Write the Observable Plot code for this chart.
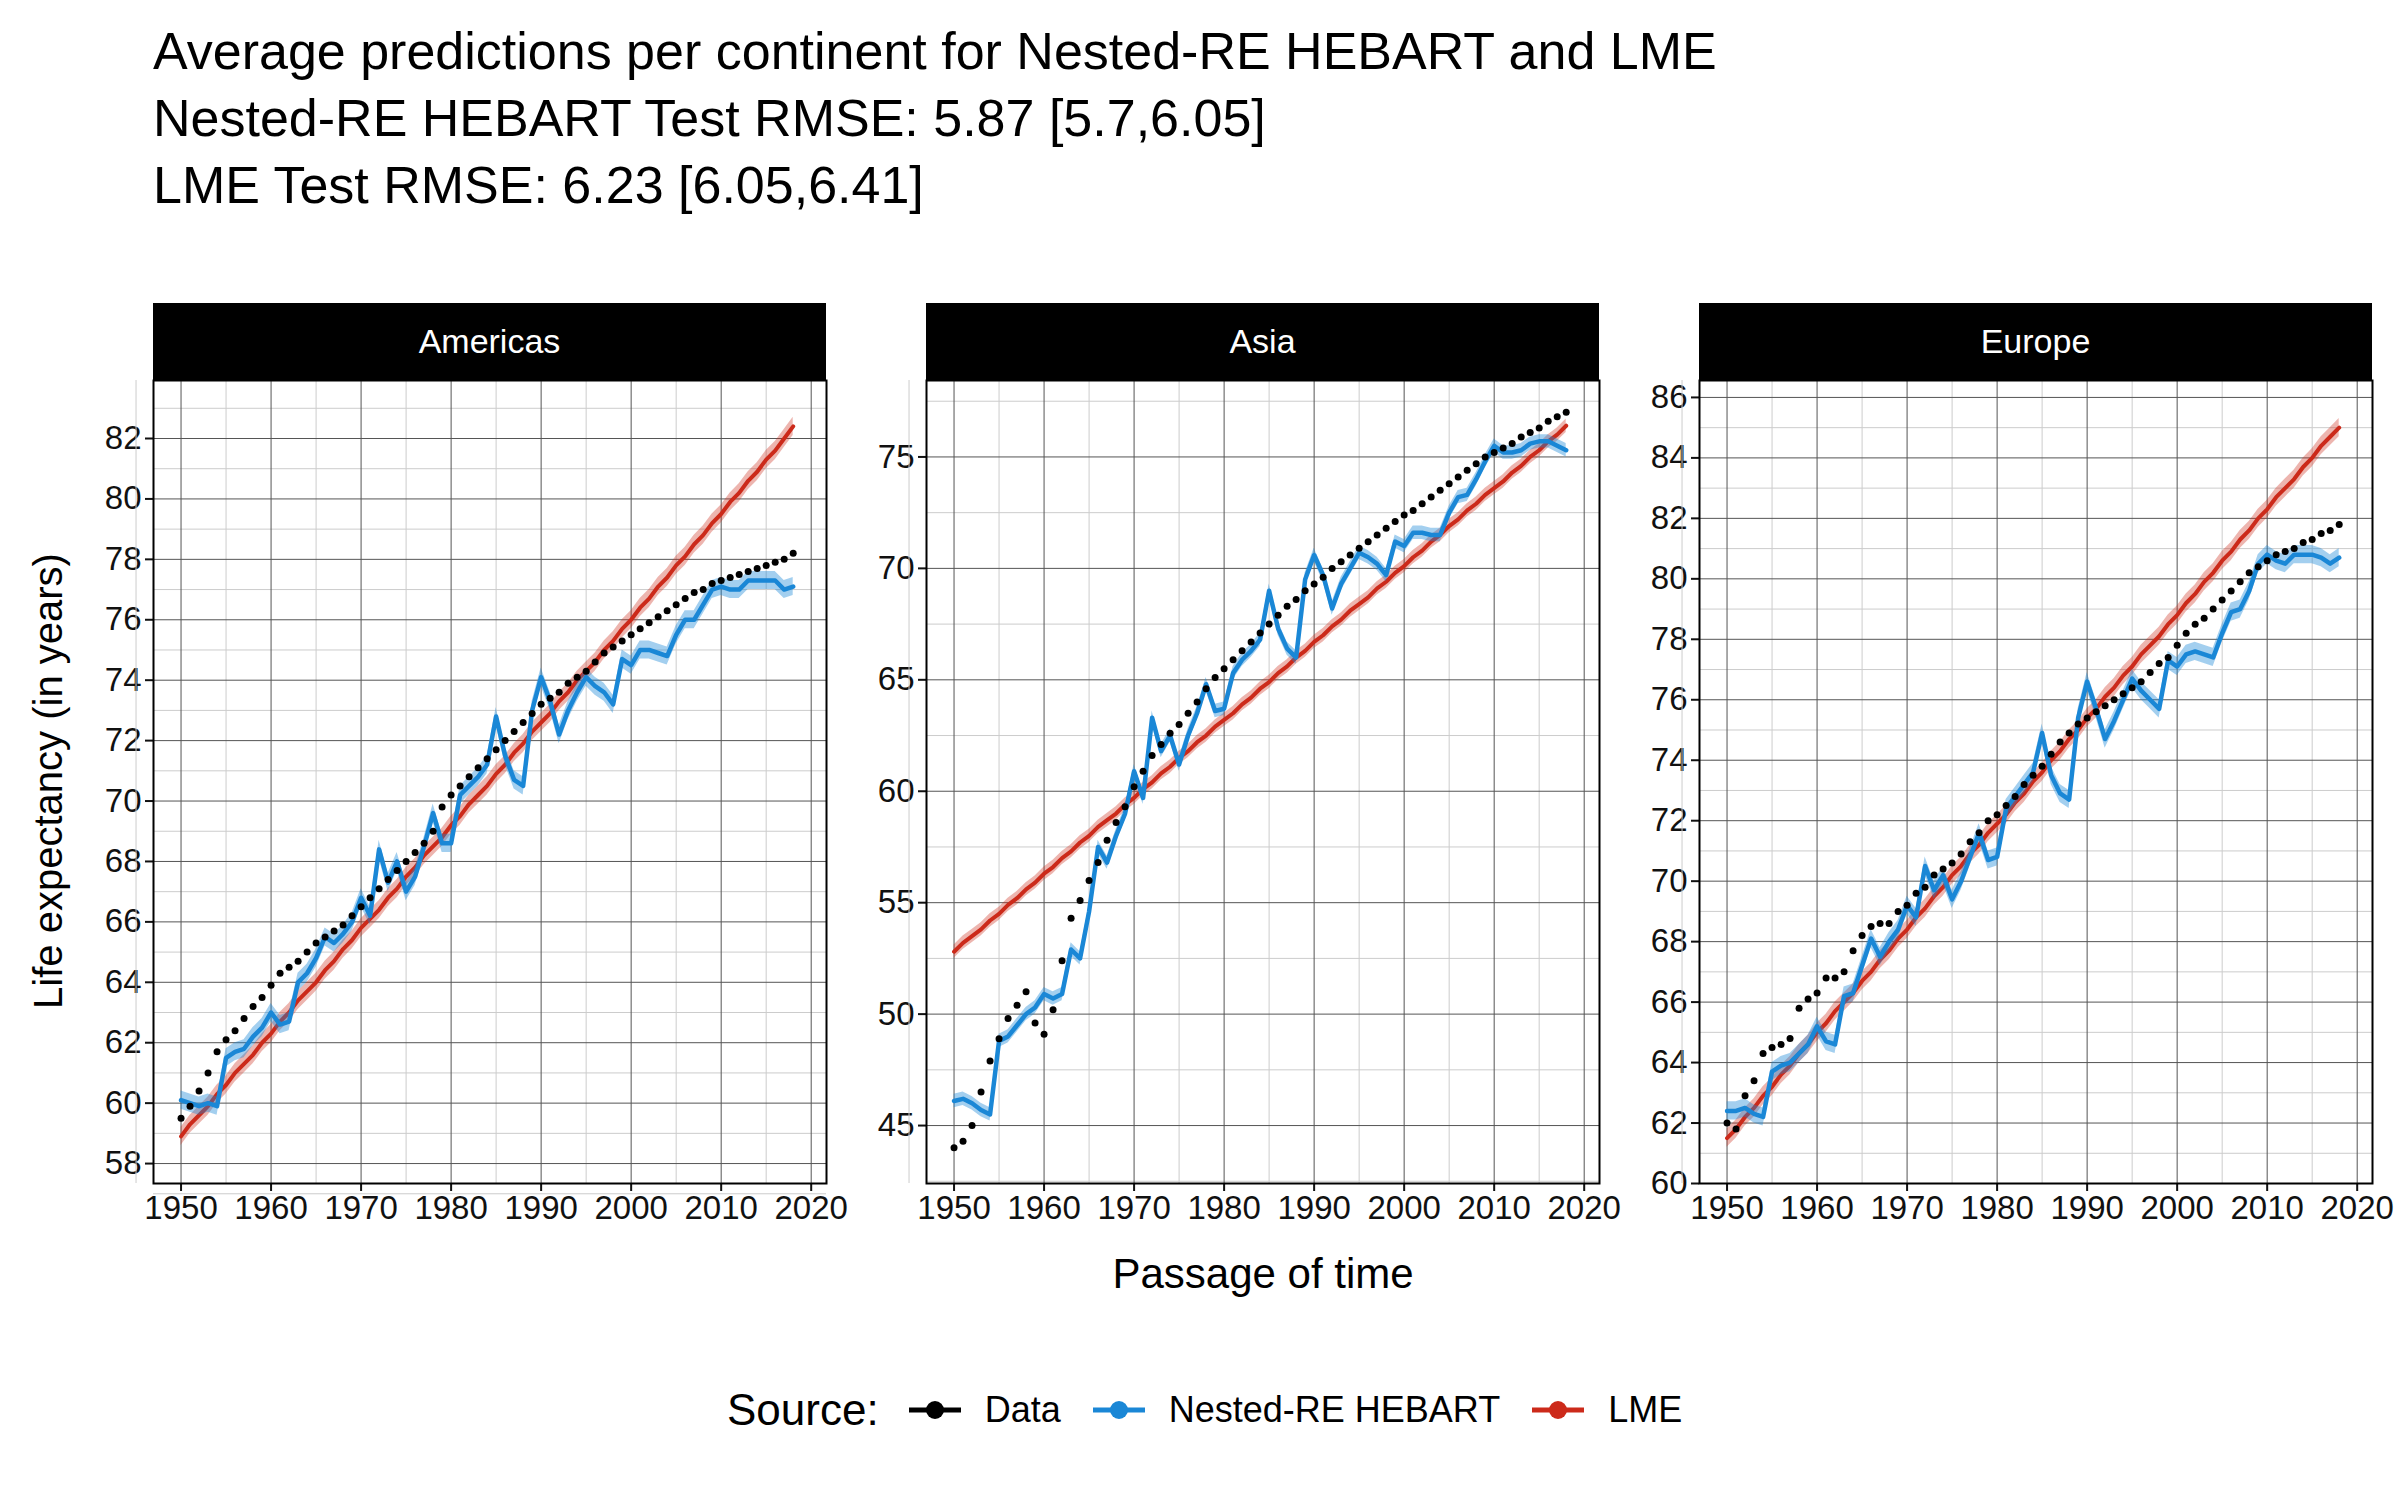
<!DOCTYPE html>
<html>
<head>
<meta charset="utf-8">
<script src="https://cdn.jsdelivr.net/npm/d3@7"></script>
<script src="https://cdn.jsdelivr.net/npm/@observablehq/plot@0.6"></script>
<style>
  body { margin: 0; background: #fff; font-family: "Liberation Sans", Arial, sans-serif; }
  #page { position: relative; width: 2400px; height: 1500px; }
  #title { position: absolute; left: 153px; top: 18px; font-size: 52px; line-height: 67px; color: #000; }
  .panel { position: absolute; top: 303px; height: 960px; }
  .strip { position: absolute; top: 0; height: 77px; background: #000; color: #fff; font-size: 34px;
           display: flex; align-items: center; justify-content: center; }
  .panel svg { position: absolute; top: 77px; left: 0; max-width: none !important; overflow: visible; }
  #ylab { position: absolute; left: 48px; top: 781px; transform: translate(-50%, -50%) rotate(-90deg);
          font-size: 40px; white-space: nowrap; }
  #xlab { position: absolute; left: 1263px; top: 1250px; transform: translateX(-50%); font-size: 42px; }
  #legend { position: absolute; left: 727px; top: 1385px; display: flex; align-items: center; font-size: 36px; }
  #legend .t { font-size: 44px; margin-right: 28px; }
  #legend .k { display: flex; align-items: center; margin-right: 30px; }
  #legend svg { margin-right: 22px; }
</style>
</head>
<body>
<div id="page">
  <div id="title">Average predictions per continent for Nested-RE HEBART and LME<br>Nested-RE HEBART Test RMSE: 5.87 [5.7,6.05]<br>LME Test RMSE: 6.23 [6.05,6.41]</div>
  <div id="ylab">Life expectancy (in years)</div>
  <div id="xlab">Passage of time</div>
  <div id="legend"></div>
</div>
<script>
const years = d3.range(1950, 2019);
const continents = ["Americas", "Asia", "Europe"];
const xTicks = [1950, 1960, 1970, 1980, 1990, 2000, 2010, 2020];

const americasData = [59.5,59.9,60.4,61.0,61.7,62.1,62.4,62.8,63.2,63.5,63.9,64.3,64.5,64.7,65.0,65.3,65.5,65.7,65.9,66.2,66.5,66.8,67.1,67.4,67.7,68.0,68.3,68.6,69.0,69.8,70.2,70.5,70.8,71.1,71.4,71.7,72.0,72.3,72.6,72.9,73.2,73.4,73.6,73.9,74.1,74.3,74.6,74.9,75.1,75.3,75.5,75.7,75.9,76.1,76.3,76.5,76.7,76.9,77.0,77.2,77.3,77.4,77.5,77.6,77.7,77.8,77.9,78.0,78.2];
const americasHebart = [60.1,60.0,59.9,60.0,59.9,61.5,61.7,61.8,62.2,62.5,63.0,62.6,62.7,64.0,64.3,64.8,65.5,65.3,65.6,66.0,66.8,66.2,68.4,67.3,68.0,67.0,67.5,68.5,69.6,68.6,68.6,70.2,70.5,70.8,71.2,72.8,71.5,70.7,70.5,73.0,74.1,73.3,72.2,73.0,73.6,74.1,73.8,73.6,73.2,74.7,74.5,75.0,75.0,74.9,74.8,75.5,76.0,76.0,76.5,77.0,77.1,77.0,77.0,77.3,77.3,77.3,77.3,77.0,77.1];
const americasLme = [58.9,59.3,59.6,59.9,60.3,60.6,61.0,61.3,61.6,62.0,62.3,62.7,63.0,63.4,63.7,64.0,64.4,64.7,65.1,65.4,65.8,66.1,66.4,66.8,67.1,67.5,67.8,68.2,68.5,68.8,69.2,69.5,69.9,70.2,70.5,70.9,71.2,71.6,71.9,72.3,72.6,72.9,73.3,73.6,74.0,74.3,74.6,75.0,75.3,75.7,76.0,76.4,76.7,77.1,77.4,77.8,78.1,78.5,78.8,79.2,79.5,79.9,80.2,80.6,80.9,81.3,81.6,82.0,82.4];

const asiaData = [44.0,44.3,45.0,46.5,47.9,48.9,49.8,50.4,51.0,49.6,49.1,50.2,52.4,54.3,55.1,56.0,56.8,57.8,58.6,59.3,60.2,60.9,61.6,62.1,62.6,63.0,63.5,64.0,64.6,65.1,65.5,65.9,66.3,66.7,67.1,67.5,67.9,68.3,68.6,69.0,69.3,69.6,70.0,70.3,70.6,70.9,71.2,71.5,71.8,72.1,72.4,72.6,72.9,73.2,73.5,73.8,74.1,74.4,74.7,75.0,75.2,75.4,75.6,75.9,76.1,76.3,76.6,76.8,77.0];
const asiaHebart = [46.1,46.2,46.0,45.7,45.5,48.8,49.0,49.5,50.0,50.3,50.9,50.7,50.9,52.9,52.5,54.6,57.5,56.8,58.0,59.0,60.9,59.7,63.3,61.8,62.5,61.2,62.5,63.5,64.8,63.6,63.7,65.3,65.9,66.3,66.8,69.0,67.3,66.4,66.0,69.5,70.6,69.7,68.2,69.3,70.0,70.7,70.5,70.2,69.7,71.2,71.0,71.6,71.6,71.5,71.5,72.5,73.2,73.3,74.0,74.8,75.5,75.2,75.2,75.3,75.6,75.7,75.7,75.5,75.3];
const asiaLme = [52.8,53.2,53.5,53.8,54.2,54.5,54.9,55.2,55.6,55.9,56.3,56.6,57.0,57.3,57.7,58.0,58.4,58.7,59.0,59.4,59.7,60.1,60.4,60.8,61.1,61.5,61.8,62.2,62.5,62.9,63.2,63.5,63.9,64.2,64.6,64.9,65.3,65.6,66.0,66.3,66.7,67.0,67.4,67.7,68.1,68.4,68.7,69.1,69.4,69.8,70.1,70.5,70.8,71.2,71.5,71.9,72.2,72.6,72.9,73.3,73.6,73.9,74.3,74.6,75.0,75.3,75.7,76.0,76.4];

const europeData = [62.0,61.8,62.9,63.4,64.3,64.5,64.6,64.8,65.8,66.1,66.3,66.8,66.8,67.0,67.7,68.2,68.5,68.6,68.6,69.0,69.2,69.6,69.8,70.2,70.4,70.6,70.9,71.3,71.6,72.0,72.2,72.5,72.8,73.2,73.5,73.8,74.2,74.6,74.9,75.2,75.4,75.6,75.8,76.0,76.2,76.4,76.6,76.9,77.2,77.4,77.8,78.2,78.5,78.7,79.0,79.3,79.6,79.9,80.2,80.4,80.6,80.8,80.9,81.0,81.2,81.3,81.5,81.6,81.8];
const europeHebart = [62.4,62.4,62.5,62.3,62.2,63.7,63.9,64.0,64.3,64.6,65.2,64.7,64.6,66.2,66.3,67.2,68.1,67.5,68.0,68.4,69.2,68.8,70.5,69.7,70.2,69.4,70.0,70.8,71.6,70.7,70.8,72.4,72.8,73.2,73.6,74.9,73.5,72.9,72.7,75.4,76.6,75.7,74.7,75.3,76.0,76.7,76.3,76.0,75.7,77.3,77.1,77.5,77.6,77.5,77.4,78.2,78.9,79.0,79.6,80.5,80.8,80.6,80.5,80.8,80.8,80.8,80.7,80.5,80.7];
const europeLme = [61.5,61.8,62.2,62.5,62.9,63.2,63.6,63.9,64.3,64.6,65.0,65.3,65.7,66.0,66.3,66.7,67.0,67.4,67.7,68.1,68.4,68.8,69.1,69.5,69.8,70.2,70.5,70.9,71.2,71.6,71.9,72.2,72.6,72.9,73.3,73.6,74.0,74.3,74.7,75.0,75.4,75.7,76.1,76.4,76.8,77.1,77.5,77.8,78.1,78.5,78.8,79.2,79.5,79.9,80.2,80.6,80.9,81.3,81.6,82.0,82.3,82.7,83.0,83.3,83.7,84.0,84.4,84.7,85.0];

// per-panel axis setup
const yDomains = [[57.34, 83.92], [42.4, 78.43], [60, 86.56]];
const yMajor = [d3.range(58, 84, 2), d3.range(45, 80, 5), d3.range(60, 87, 2)];
const yMinor = [d3.range(57, 84, 2), d3.range(42.5, 80, 5), d3.range(61, 87, 2)];
const series = [
  [americasData, americasHebart, americasLme],
  [asiaData, asiaHebart, asiaLme],
  [europeData, europeHebart, europeLme]
];

const blue = "#1a87d6", red = "#cc2a1a";
const band = 0.3;

// panel geometry: svg left, svg width, margin left
const layout = [[0, 846, 153], [846, 774, 80], [1620, 780, 79]];
const plotH = 803, marginBottom = 70;

continents.forEach((name, i) => {
  const [data, hebart, lme] = series[i];
  const [left, w, ml] = layout[i];
  const rows = years.map((year, j) => ({year, data: data[j], hebart: hebart[j], lme: lme[j]}));

  const panel = document.createElement("div");
  panel.className = "panel";
  panel.style.left = left + "px";
  panel.style.width = w + "px";
  const strip = document.createElement("div");
  strip.className = "strip";
  strip.style.left = ml + "px";
  strip.style.width = "673px";
  strip.textContent = name;
  panel.append(strip);

  const chart = Plot.plot({
    width: w,
    height: plotH + marginBottom,
    marginLeft: ml,
    marginRight: w - ml - 673,
    marginTop: 0,
    marginBottom: marginBottom,
    style: {fontFamily: "Liberation Sans, Arial, sans-serif", fontSize: "33px", color: "#111", maxWidth: "none", overflow: "visible"},
    x: {domain: [1946.94, 2021.7], ticks: xTicks, tickFormat: d => String(d), tickSize: 8, tickPadding: 4, label: null},
    y: {domain: yDomains[i], ticks: yMajor[i], tickSize: 8, tickPadding: 4, label: null},
    marks: [
      Plot.ruleX(d3.range(1945, 2025, 10), {stroke: "#ccc", strokeWidth: 1}),
      Plot.ruleY(yMinor[i], {stroke: "#ccc", strokeWidth: 1}),
      Plot.ruleX(xTicks, {stroke: "#555", strokeWidth: 1}),
      Plot.ruleY(yMajor[i], {stroke: "#555", strokeWidth: 1}),
      Plot.areaY(rows, {x: "year", y1: d => d.lme - band, y2: d => d.lme + band, fill: red, fillOpacity: 0.35}),
      Plot.lineY(rows, {x: "year", y: "lme", stroke: red, strokeWidth: 4}),
      Plot.areaY(rows, {x: "year", y1: d => d.hebart - band, y2: d => d.hebart + band, fill: blue, fillOpacity: 0.4}),
      Plot.lineY(rows, {x: "year", y: "hebart", stroke: blue, strokeWidth: 4.5}),
      Plot.dot(rows, {x: "year", y: "data", r: 3.5, fill: "#000", stroke: null}),
      Plot.frame({stroke: "#000", strokeWidth: 2})
    ]
  });
  chart.style.maxWidth = "none";
  d3.select(chart).selectAll("[aria-label$='tick'] path, [aria-label$='tick'] line").attr("stroke-width", 2);
  panel.append(chart);
  document.getElementById("page").append(panel);
});

// legend
const legend = d3.select("#legend");
legend.append("span").attr("class", "t").text("Source:");
[["Data", "#000"], ["Nested-RE HEBART", blue], ["LME", red]].forEach(([label, color]) => {
  const k = legend.append("span").attr("class", "k");
  const s = k.append("svg").attr("width", 56).attr("height", 30);
  s.append("line").attr("x1", 2).attr("x2", 54).attr("y1", 15).attr("y2", 15).attr("stroke", color).attr("stroke-width", 5);
  s.append("circle").attr("cx", 28).attr("cy", 15).attr("r", 9).attr("fill", color);
  k.append("span").text(label);
});
</script>
</body>
</html>
